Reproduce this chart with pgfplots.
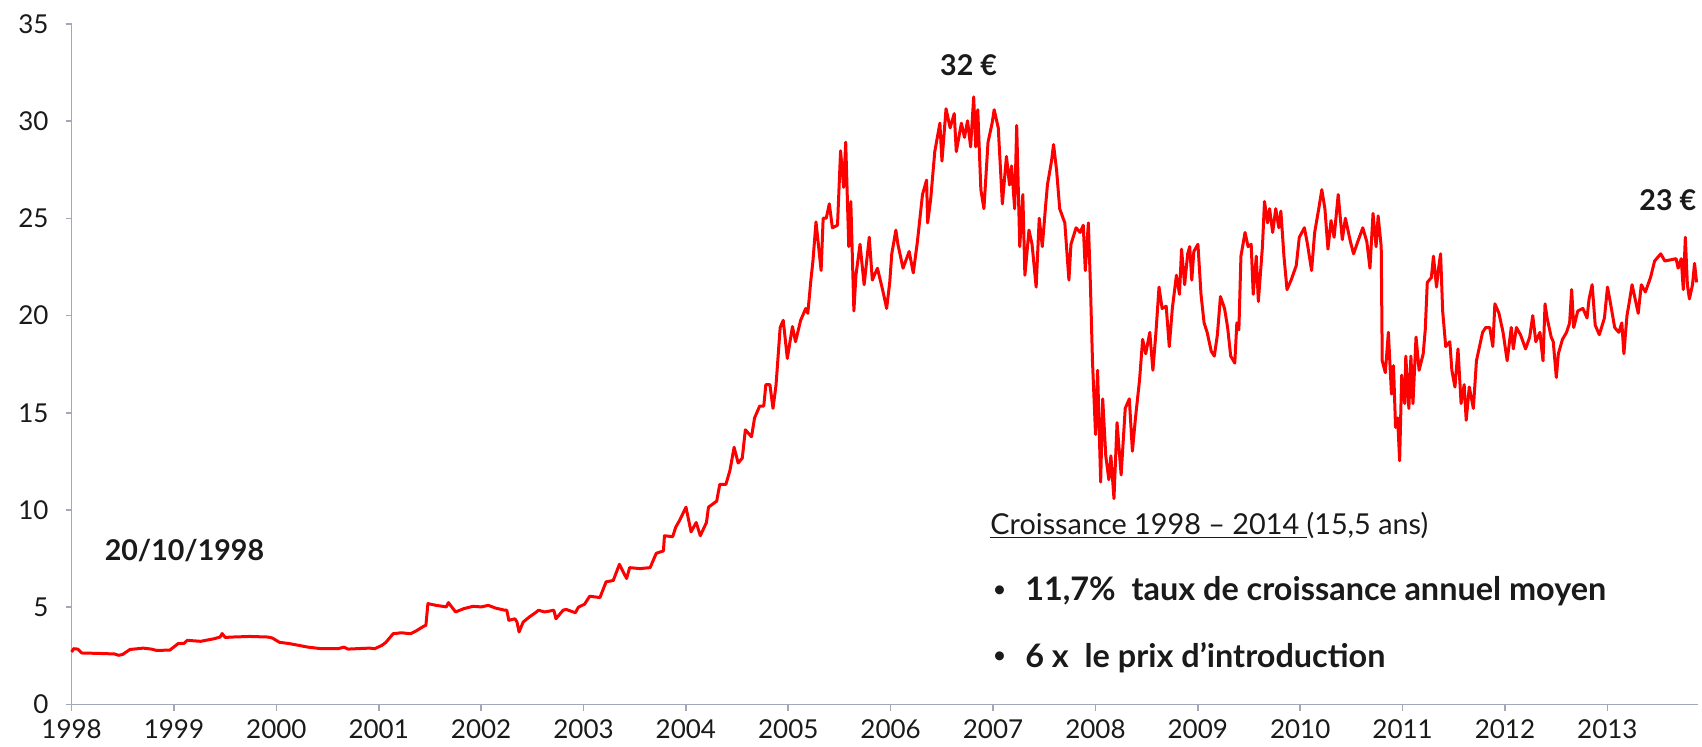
\documentclass[border=0pt]{standalone}
\usepackage{pgfplots}
\pgfplotsset{compat=1.18}
\usepackage{pgfplotstable}
\usepackage{fontspec}
\setmainfont{Lato}
\definecolor{axgray}{HTML}{A3A7BA}
\definecolor{txt}{HTML}{1A1A1A}

\pgfplotstableread{
x y
1998.00 2.70
1998.02 2.87
1998.06 2.85
1998.10 2.65
1998.25 2.63
1998.42 2.60
1998.46 2.53
1998.50 2.58
1998.57 2.83
1998.70 2.90
1998.78 2.85
1998.83 2.78
1998.96 2.80
1999.04 3.13
1999.10 3.15
1999.13 3.30
1999.26 3.25
1999.39 3.38
1999.45 3.47
1999.47 3.65
1999.50 3.45
1999.57 3.47
1999.74 3.50
1999.92 3.47
1999.96 3.42
2000.03 3.20
2000.13 3.13
2000.31 2.95
2000.44 2.87
2000.60 2.87
2000.66 2.95
2000.70 2.85
2000.78 2.87
2000.91 2.90
2000.96 2.87
2001.03 3.04
2001.07 3.20
2001.14 3.64
2001.22 3.69
2001.31 3.64
2001.37 3.80
2001.44 4.03
2001.46 4.07
2001.48 5.19
2001.56 5.10
2001.66 5.02
2001.68 5.24
2001.75 4.76
2001.83 4.93
2001.92 5.05
2002.00 5.02
2002.07 5.10
2002.14 4.96
2002.23 4.85
2002.25 4.85
2002.27 4.33
2002.33 4.41
2002.35 4.24
2002.37 3.73
2002.41 4.24
2002.47 4.50
2002.54 4.76
2002.56 4.85
2002.62 4.76
2002.71 4.85
2002.73 4.41
2002.80 4.85
2002.83 4.89
2002.92 4.72
2002.95 5.01
2003.01 5.16
2003.06 5.57
2003.16 5.50
2003.22 6.31
2003.29 6.38
2003.35 7.21
2003.42 6.48
2003.45 7.04
2003.55 6.99
2003.65 7.04
2003.71 7.78
2003.78 7.90
2003.79 8.68
2003.87 8.63
2003.90 9.12
2003.94 9.49
2004.00 10.15
2004.05 8.88
2004.10 9.36
2004.14 8.68
2004.20 9.36
2004.22 10.15
2004.30 10.46
2004.33 11.32
2004.39 11.32
2004.43 12.05
2004.47 13.23
2004.51 12.42
2004.55 12.67
2004.58 14.13
2004.64 13.77
2004.67 14.74
2004.72 15.35
2004.76 15.35
2004.78 16.45
2004.82 16.45
2004.85 15.23
2004.88 16.45
2004.92 19.39
2004.95 19.76
2004.99 17.80
2005.04 19.44
2005.07 18.66
2005.12 19.76
2005.17 20.37
2005.19 20.12
2005.22 21.83
2005.24 22.81
2005.27 24.82
2005.32 22.32
2005.34 25.01
2005.37 25.01
2005.40 25.75
2005.43 24.52
2005.48 24.65
2005.51 28.48
2005.54 26.60
2005.56 28.92
2005.59 23.55
2005.61 25.87
2005.64 20.24
2005.66 22.08
2005.70 23.67
2005.74 21.59
2005.79 24.03
2005.82 21.83
2005.87 22.44
2005.92 21.34
2005.96 20.37
2005.99 21.71
2006.01 23.18
2006.05 24.40
2006.07 23.67
2006.12 22.44
2006.18 23.30
2006.22 22.20
2006.26 23.79
2006.31 26.23
2006.35 26.97
2006.36 24.77
2006.39 25.99
2006.43 28.44
2006.48 29.90
2006.50 27.95
2006.54 30.64
2006.58 29.66
2006.62 30.39
2006.64 28.44
2006.69 29.90
2006.72 29.17
2006.75 30.02
2006.78 28.68
2006.81 31.25
2006.83 28.68
2006.85 30.59
2006.88 26.48
2006.91 25.50
2006.95 28.92
2006.99 29.90
2007.01 30.59
2007.05 29.66
2007.09 25.75
2007.13 28.19
2007.16 26.72
2007.18 27.70
2007.21 25.50
2007.23 29.78
2007.26 23.55
2007.29 26.23
2007.31 22.08
2007.35 24.40
2007.38 23.67
2007.42 21.47
2007.45 25.01
2007.48 23.55
2007.51 25.50
2007.53 26.72
2007.57 27.95
2007.59 28.80
2007.62 27.46
2007.65 25.50
2007.70 24.77
2007.74 21.83
2007.76 23.67
2007.81 24.52
2007.85 24.28
2007.88 24.65
2007.90 22.32
2007.93 24.77
2007.95 21.59
2007.97 17.68
2008.00 13.89
2008.02 17.19
2008.05 11.44
2008.07 15.72
2008.10 12.79
2008.13 11.56
2008.15 12.79
2008.18 10.59
2008.21 14.50
2008.25 11.81
2008.29 15.23
2008.33 15.72
2008.36 13.03
2008.39 14.74
2008.43 16.70
2008.46 18.78
2008.49 18.04
2008.53 19.14
2008.56 17.19
2008.59 19.14
2008.62 21.47
2008.65 20.37
2008.69 20.49
2008.72 18.41
2008.75 20.37
2008.79 22.08
2008.82 21.10
2008.84 23.42
2008.87 21.59
2008.90 23.18
2008.92 23.55
2008.94 21.83
2008.96 23.30
2009.00 23.67
2009.03 21.10
2009.06 19.63
2009.09 19.14
2009.13 18.17
2009.16 17.92
2009.19 19.02
2009.22 20.98
2009.26 20.37
2009.29 19.39
2009.32 17.92
2009.36 17.56
2009.38 19.63
2009.40 19.27
2009.42 23.06
2009.46 24.28
2009.49 23.55
2009.52 23.67
2009.54 21.10
2009.57 23.06
2009.59 20.73
2009.63 23.55
2009.65 25.87
2009.68 24.77
2009.70 25.50
2009.73 24.28
2009.76 25.50
2009.79 24.52
2009.81 25.38
2009.84 23.06
2009.87 21.34
2009.91 21.83
2009.96 22.57
2009.99 24.03
2010.04 24.52
2010.07 23.67
2010.11 22.32
2010.14 24.28
2010.18 25.50
2010.21 26.48
2010.24 25.50
2010.27 23.42
2010.30 24.89
2010.33 24.03
2010.37 26.23
2010.41 23.91
2010.44 25.01
2010.49 23.79
2010.52 23.18
2010.56 23.79
2010.61 24.52
2010.65 23.79
2010.68 22.44
2010.71 25.26
2010.74 23.55
2010.76 25.13
2010.79 23.55
2010.80 17.68
2010.83 17.07
2010.86 19.14
2010.89 15.97
2010.91 17.43
2010.93 14.25
2010.95 14.74
2010.97 12.54
2010.99 16.94
2011.02 15.48
2011.03 17.92
2011.06 15.23
2011.08 17.92
2011.10 15.48
2011.13 18.90
2011.16 17.19
2011.20 18.04
2011.22 19.27
2011.24 21.71
2011.28 21.96
2011.30 23.06
2011.33 21.47
2011.35 22.44
2011.37 23.18
2011.39 20.24
2011.42 18.41
2011.46 18.66
2011.48 17.19
2011.51 16.33
2011.54 18.29
2011.57 15.48
2011.60 16.45
2011.62 14.62
2011.65 16.33
2011.69 15.23
2011.72 17.68
2011.75 18.41
2011.78 19.14
2011.81 19.39
2011.85 19.39
2011.88 18.41
2011.90 20.61
2011.94 20.12
2011.98 19.14
2012.02 17.68
2012.06 19.39
2012.08 18.29
2012.11 19.39
2012.15 19.02
2012.20 18.29
2012.24 18.90
2012.27 20.00
2012.30 18.66
2012.34 19.14
2012.37 17.68
2012.39 20.61
2012.41 19.88
2012.45 18.90
2012.47 18.66
2012.50 16.82
2012.52 18.04
2012.56 18.78
2012.60 19.14
2012.63 19.63
2012.65 21.34
2012.67 19.39
2012.71 20.24
2012.76 20.37
2012.80 19.88
2012.82 20.86
2012.85 21.59
2012.88 19.51
2012.92 19.02
2012.97 19.88
2013.00 21.47
2013.03 20.61
2013.07 19.39
2013.11 19.14
2013.14 19.63
2013.16 18.04
2013.19 20.00
2013.21 20.61
2013.24 21.59
2013.28 20.61
2013.30 20.12
2013.33 21.59
2013.37 21.22
2013.42 21.96
2013.46 22.81
2013.52 23.18
2013.56 22.81
2013.67 22.93
2013.69 22.44
2013.72 22.93
2013.74 21.34
2013.76 24.03
2013.78 21.59
2013.80 20.86
2013.83 21.59
2013.85 22.69
2013.87 21.71
}\prices

\begin{document}
\begin{tikzpicture}
\begin{axis}[
  scale only axis,
  width=813pt, height=340.25pt,
  xmin=1998, xmax=2013.88,
  ymin=0, ymax=35,
  axis lines=left,
  axis line style={axgray, line width=0.8pt, -},
  xtick={1998,1999,...,2013},
  ytick={0,5,...,35},
  tick style={axgray, line width=0.8pt},
  tick align=outside,
  major tick length=3pt,
  tick label style={font=\fontsize{13}{15}\selectfont, text=txt},
  /pgf/number format/assume math mode=true,
  /pgf/number format/set thousands separator={},
  xticklabel style={yshift=-1pt},
  yticklabel style={xshift=-5pt},
  clip=false,
]
\addplot[red, line width=1.5pt, line join=round, mark=none] table[x=x, y=y] {\prices};

\node[anchor=west, inner sep=0, font=\bfseries\fontsize{14.3}{16}\selectfont, text=txt] at (axis cs:1998.32,7.9) {20/10/1998};
\node[anchor=center, inner sep=0, font=\bfseries\fontsize{14.3}{16}\selectfont, text=txt] at (axis cs:2006.76,32.9) {32 €};
\node[anchor=east, inner sep=0, font=\bfseries\fontsize{14.3}{16}\selectfont, text=txt] at (axis cs:2013.87,25.95) {23 €};
\node[anchor=west, inner sep=0, font=\fontsize{14.4}{16}\selectfont, text=txt] at (axis cs:2006.97,9.2) {\underline{Croissance 1998 – 2014 }(15,5 ans)};
\node[anchor=west, inner sep=0, font=\fontsize{12}{14}\selectfont, text=txt] at (axis cs:2006.99,5.81) {•};
\node[anchor=west, inner sep=0, font=\bfseries\fontsize{16.2}{18}\selectfont, text=txt] at (axis cs:2007.31,5.81) {11,7\%\ \ taux de croissance annuel moyen};
\node[anchor=west, inner sep=0, font=\fontsize{12}{14}\selectfont, text=txt] at (axis cs:2006.99,2.39) {•};
\node[anchor=west, inner sep=0, font=\bfseries\fontsize{16.2}{18}\selectfont, text=txt] at (axis cs:2007.31,2.39) {6 x\ \ le prix d’introduction};
\end{axis}
\pgfresetboundingbox
\path[use as bounding box] (-35.8pt,-20.75pt) rectangle (815.2pt,352.25pt);
\end{tikzpicture}
\end{document}
